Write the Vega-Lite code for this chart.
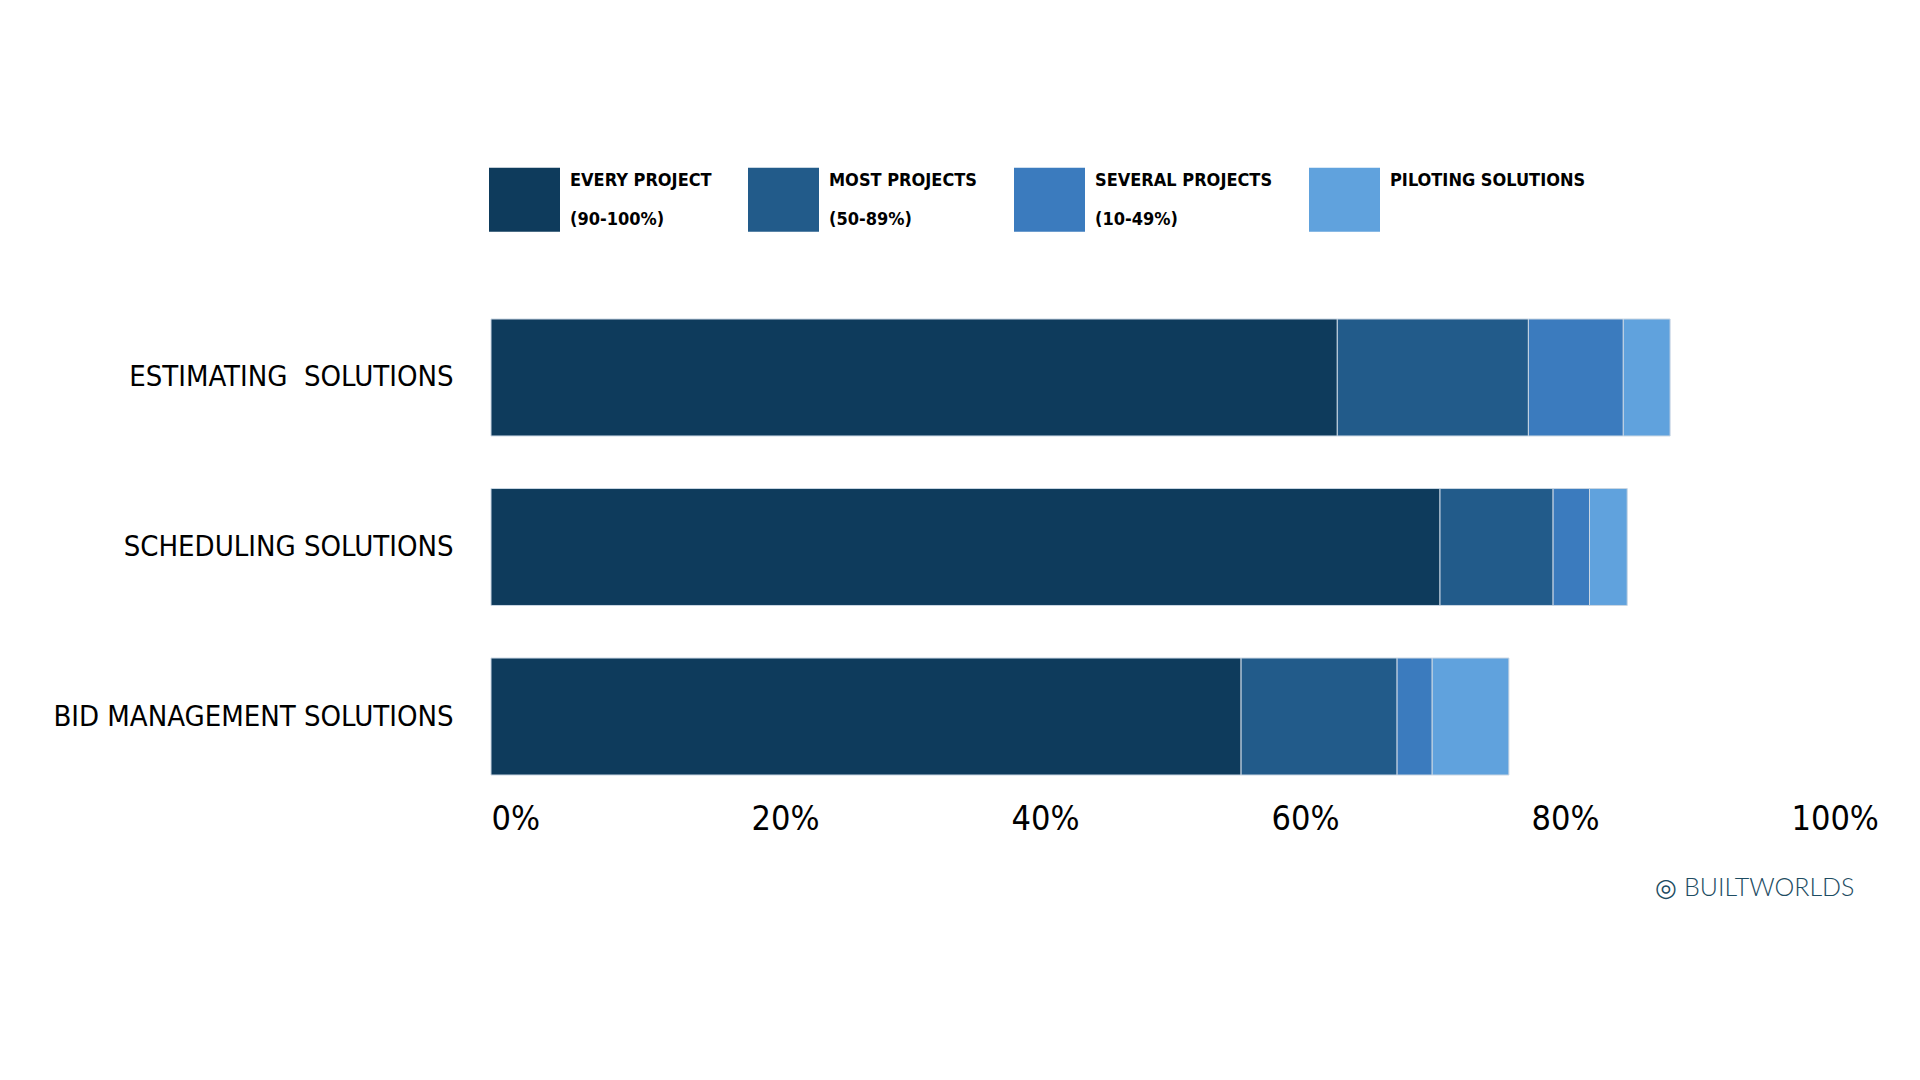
{
  "$schema": "https://vega.github.io/schema/vega-lite/v6.json",
  "width": 1300,
  "height": 456,
  "autosize": {"type": "none"},
  "padding": {"left": 491, "top": 319, "right": 129, "bottom": 305},
  "background": "white",
  "view": {"stroke": null},
  "config": {"style": {"guide-label": {"lineHeight": 39, "dy": -19}}},
  "title": {
    "text": "◎ BUILTWORLDS",
    "orient": "bottom",
    "anchor": "end",
    "font": "Lato",
    "fontWeight": 300,
    "fontSize": 25,
    "color": "#1d4c62",
    "offset": 40,
    "dx": -24
  },
  "data": {
    "values": [
      {"solution": "ESTIMATING\u00a0 SOLUTIONS", "usage": "EVERY PROJECT (90-100%)", "rank": 1, "share": 0.651},
      {"solution": "ESTIMATING\u00a0 SOLUTIONS", "usage": "MOST PROJECTS (50-89%)", "rank": 2, "share": 0.147},
      {"solution": "ESTIMATING\u00a0 SOLUTIONS", "usage": "SEVERAL PROJECTS (10-49%)", "rank": 3, "share": 0.073},
      {"solution": "ESTIMATING\u00a0 SOLUTIONS", "usage": "PILOTING SOLUTIONS", "rank": 4, "share": 0.036},
      {"solution": "SCHEDULING SOLUTIONS", "usage": "EVERY PROJECT (90-100%)", "rank": 1, "share": 0.730},
      {"solution": "SCHEDULING SOLUTIONS", "usage": "MOST PROJECTS (50-89%)", "rank": 2, "share": 0.087},
      {"solution": "SCHEDULING SOLUTIONS", "usage": "SEVERAL PROJECTS (10-49%)", "rank": 3, "share": 0.028},
      {"solution": "SCHEDULING SOLUTIONS", "usage": "PILOTING SOLUTIONS", "rank": 4, "share": 0.029},
      {"solution": "BID MANAGEMENT SOLUTIONS", "usage": "EVERY PROJECT (90-100%)", "rank": 1, "share": 0.577},
      {"solution": "BID MANAGEMENT SOLUTIONS", "usage": "MOST PROJECTS (50-89%)", "rank": 2, "share": 0.120},
      {"solution": "BID MANAGEMENT SOLUTIONS", "usage": "SEVERAL PROJECTS (10-49%)", "rank": 3, "share": 0.027},
      {"solution": "BID MANAGEMENT SOLUTIONS", "usage": "PILOTING SOLUTIONS", "rank": 4, "share": 0.059}
    ]
  },
  "mark": {"type": "bar", "stroke": "#c9d6e3", "strokeWidth": 1},
  "encoding": {
    "y": {
      "field": "solution",
      "type": "nominal",
      "sort": ["ESTIMATING\u00a0 SOLUTIONS", "SCHEDULING SOLUTIONS", "BID MANAGEMENT SOLUTIONS"],
      "scale": {"paddingInner": 0.31, "paddingOuter": 0},
      "axis": {
        "title": null,
        "domain": false,
        "ticks": false,
        "labelFont": "DejaVu Sans Condensed, Roboto, sans-serif",
        "labelFontSize": 29,
        "labelColor": "#000000",
        "labelPadding": 38,
        "labelOffset": 19,
        "labelLimit": 600
      }
    },
    "x": {
      "field": "share",
      "type": "quantitative",
      "stack": "zero",
      "scale": {"domain": [0, 1]},
      "axis": {
        "title": null,
        "format": ".0%",
        "values": [0, 0.2, 0.4, 0.6, 0.8, 1],
        "domain": false,
        "ticks": false,
        "grid": false,
        "labelAlign": "left",
        "labelFlush": false,
        "labelOverlap": false,
        "labelFont": "DejaVu Sans Condensed, Roboto, sans-serif",
        "labelFontSize": 34,
        "labelPadding": 46,
        "labelColor": "#000000",
        "labelBaseline": "top"
      }
    },
    "order": {"field": "rank", "type": "quantitative"},
    "color": {
      "field": "usage",
      "type": "nominal",
      "sort": ["EVERY PROJECT (90-100%)", "MOST PROJECTS (50-89%)", "SEVERAL PROJECTS (10-49%)", "PILOTING SOLUTIONS"],
      "scale": {
        "domain": ["EVERY PROJECT (90-100%)", "MOST PROJECTS (50-89%)", "SEVERAL PROJECTS (10-49%)", "PILOTING SOLUTIONS"],
        "range": ["#0e3b5c", "#225b8a", "#3b7bbe", "#60a2dd"]
      },
      "legend": {
        "title": null,
        "orient": "none",
        "legendX": -2,
        "legendY": -155,
        "direction": "horizontal",
        "columns": 4,
        "symbolType": "M-1,-0.9H1V0.9H-1Z",
        "symbolSize": 5041,
        "symbolStrokeWidth": 0,
        "symbolOpacity": 1,
        "labelFont": "DejaVu Sans Condensed, Roboto, sans-serif",
        "labelFontWeight": "bold",
        "labelFontSize": 18,
        "labelOffset": 10,
        "labelLimit": 300,
        "labelColor": "#000000",
        "columnPadding": 36,
        "labelExpr": "split(replace(datum.label, ' (', '|('), '|')"
      }
    }
  }
}
